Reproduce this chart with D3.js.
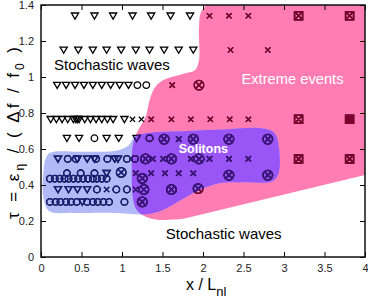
<!DOCTYPE html>
<html>
<head>
<meta charset="utf-8">
<script src="https://cdn.jsdelivr.net/npm/d3@7"></script>
<style>
  body { margin: 0; background: #fff; }
  text { font-family: "Liberation Sans", Arial, sans-serif; }
</style>
</head>
<body>
<div id="chart"></div>
<script>
// tick values and labels
const xTicks = [0, 0.5, 1, 1.5, 2, 2.5, 3, 3.5, 4];
const xTickLabels = ['0', '0.5', '1', '1.5', '2', '2.5', '3', '3.5', '4'];
const yTicks = [0, 0.2, 0.4, 0.6, 0.8, 1, 1.2, 1.4];
const yTickLabels = ['0', '0.2', '0.4', '0.6', '0.8', '1', '1.2', '1.4'];

// simulation points [x/Lnl, tau], one list per symbol
const triangles = [
  [0.42, 1.34], [0.66, 1.34], [0.89, 1.34], [1.13, 1.34], [1.36, 1.34], [1.60, 1.34], [1.84, 1.34],
  [0.28, 1.15], [0.46, 1.15], [0.64, 1.15], [0.81, 1.15], [0.99, 1.15], [1.17, 1.15], [1.34, 1.15], [1.52, 1.15], [1.70, 1.15], [1.88, 1.15],
  [0.20, 0.955], [0.31, 0.955], [0.42, 0.955], [0.53, 0.955], [0.64, 0.955], [0.75, 0.955], [0.86, 0.955], [0.97, 0.955], [1.08, 0.955],
  [0.12, 0.765], [0.19, 0.765], [0.26, 0.765], [0.33, 0.765], [0.40, 0.765], [0.43, 0.765], [0.45, 0.765], [0.47, 0.765], [0.54, 0.765],
  [0.61, 0.765], [0.68, 0.765], [0.75, 0.765], [0.82, 0.765], [0.89, 0.765], [1.03, 0.765],
  [0.32, 0.66], [0.47, 0.66], [0.81, 0.66], [0.96, 0.66], [1.18, 0.66],
  [0.21, 0.545], [0.45, 0.545], [0.57, 0.545], [0.66, 0.545], [0.91, 0.545], [0.95, 0.545],
  [0.81, 0.465],
  [0.21, 0.375], [0.34, 0.375], [0.45, 0.375], [0.57, 0.375],
  [0.51, 0.306]
];
const circles = [
  [1.19, 0.955], [1.30, 0.955],
  [0.66, 0.66], [1.34, 0.66],
  [0.33, 0.545], [0.43, 0.545], [0.68, 0.545], [0.82, 0.545], [1.06, 0.545], [1.16, 0.545],
  [0.32, 0.465], [0.49, 0.465], [0.66, 0.465],
  [0.11, 0.435], [0.17, 0.435], [0.23, 0.435], [0.29, 0.435], [0.34, 0.435], [0.40, 0.435], [0.46, 0.435],
  [0.52, 0.435], [0.58, 0.435], [0.64, 0.435], [0.69, 0.435], [0.75, 0.435], [0.81, 0.435],
  [0.69, 0.375], [0.93, 0.375], [1.06, 0.375],
  [0.11, 0.306], [0.18, 0.306], [0.24, 0.306], [0.31, 0.306], [0.37, 0.306], [0.44, 0.306],
  [0.57, 0.306], [0.64, 0.306], [0.70, 0.306], [0.77, 0.306], [0.84, 0.306], [1.03, 0.306]
];
const crosses = [
  [2.08, 1.34], [2.32, 1.34], [2.56, 1.34],
  [2.34, 1.15], [2.80, 1.15],
  [1.62, 0.955],
  [1.13, 0.765], [1.24, 0.765], [1.36, 0.765], [1.61, 0.765], [1.85, 0.765], [2.09, 0.765], [2.33, 0.765], [2.56, 0.765],
  [1.70, 0.655],
  [1.38, 0.545], [1.51, 0.545], [1.85, 0.545], [2.08, 0.545], [2.32, 0.545], [2.56, 0.545],
  [1.17, 0.465], [1.36, 0.465], [1.53, 0.465], [1.70, 0.465], [1.88, 0.465],
  [0.81, 0.375], [1.17, 0.375]
];
const circledCrosses = [
  [1.95, 0.955],
  [1.52, 0.655], [1.88, 0.655], [2.32, 0.655], [2.80, 0.655],
  [1.29, 0.545], [1.61, 0.545], [1.95, 0.545],
  [0.99, 0.47], [1.25, 0.437], [2.32, 0.455], [2.80, 0.455],
  [1.27, 0.375], [1.61, 0.375], [1.94, 0.38],
  [1.25, 0.306]
];
const boxes = [
  [3.18, 1.34], [3.81, 1.34],
  [3.18, 0.765],
  [3.18, 0.545], [3.81, 0.545]
];
const filledBoxes = [[3.81, 0.765]];

// outlines of the shaded regimes
const extremeCurve = [
  [2.04, 1.42], [2.03, 1.398], [1.97, 1.354], [1.95, 1.26], [1.95, 1.093], [1.90, 1.037], [1.76, 1.018],
  [1.50, 0.98], [1.40, 0.937], [1.34, 0.87], [1.29, 0.776], [1.18, 0.687], [1.13, 0.61],
  [1.12, 0.48], [1.13, 0.343], [1.17, 0.27], [1.28, 0.226], [1.44, 0.207], [1.76, 0.213]
];
const extremeCorners = [[4.1, 0.467], [4.1, 1.5], [2.04, 1.5]];
const solitonOutline = [
  [0.12, 0.58], [0.5, 0.585], [0.92, 0.59], [1.08, 0.62], [1.16, 0.67], [1.35, 0.69], [1.8, 0.70],
  [2.3, 0.71], [2.72, 0.715], [2.88, 0.69], [2.94, 0.6], [2.93, 0.46], [2.85, 0.42], [2.5, 0.415],
  [2.2, 0.41], [2.0, 0.38], [1.76, 0.325], [1.5, 0.26], [1.3, 0.238], [0.9, 0.245], [0.4, 0.245],
  [0.1, 0.255], [0.03, 0.33], [0.03, 0.47], [0.06, 0.55]
];

const width = 368, height = 300;
const margin = {top: 5, right: 3, bottom: 43, left: 41};

const x = d3.scaleLinear().domain([0, 4]).range([margin.left, width - margin.right]);
const y = d3.scaleLinear().domain([0, 1.4]).range([height - margin.bottom, margin.top]);

const svg = d3.select('#chart').append('svg').attr('width', width).attr('height', height);
const defs = svg.append('defs');

defs.append('clipPath').attr('id', 'plotClip').append('rect')
    .attr('x', x(0)).attr('y', y(1.4)).attr('width', x(4) - x(0)).attr('height', y(0) - y(1.4));

const smooth = d3.line().x(d => x(d[0])).y(d => y(d[1])).curve(d3.curveCatmullRom.alpha(0.5));
const smoothClosed = d3.line().x(d => x(d[0])).y(d => y(d[1])).curve(d3.curveCatmullRomClosed.alpha(0.5));

const extremeD = smooth(extremeCurve) + extremeCorners.map(p => 'L' + x(p[0]) + ',' + y(p[1])).join('') + 'Z';
const solitonD = smoothClosed(solitonOutline);

defs.append('clipPath').attr('id', 'pinkClip').append('path').attr('d', extremeD);
defs.append('clipPath').attr('id', 'blueClip').append('path').attr('d', solitonD);

const plot = svg.append('g').attr('clip-path', 'url(#plotClip)');

plot.append('path').attr('d', extremeD).attr('fill', '#ff7db3');
plot.append('path').attr('d', solitonD).attr('fill', '#b1b9f6');
plot.append('g').attr('clip-path', 'url(#pinkClip)')
    .append('path').attr('d', solitonD).attr('fill', '#9a55f6');

// marker shapes
const shapes = {
  tri: 'M-3.6,-2.8L3.6,-2.8L0,3.3Z',
  circ: 'M3.3,0A3.3,3.3 0 1 1 -3.3,0A3.3,3.3 0 1 1 3.3,0Z',
  cross: 'M-2.6,-2.6L2.6,2.6M-2.6,2.6L2.6,-2.6',
  ocross: 'M4.8,0A4.8,4.8 0 1 1 -4.8,0A4.8,4.8 0 1 1 4.8,0ZM-3.1,-3.1L3.1,3.1M-3.1,3.1L3.1,-3.1',
  box: 'M-4,-4H4V4H-4ZM-4,-4L4,4M-4,4L4,-4'
};

function drawMarkers(g, color) {
  const sets = [
    [triangles, shapes.tri, 'none', 1.3],
    [circles, shapes.circ, 'none', 1.3],
    [crosses, shapes.cross, 'none', 1.3],
    [circledCrosses, shapes.ocross, 'none', 1.3],
    [boxes, shapes.box, 'none', 1.5],
    [filledBoxes, shapes.box, color, 1.5]
  ];
  sets.forEach(s => {
    g.append('g').selectAll('path').data(s[0]).enter().append('path')
      .attr('transform', d => `translate(${x(d[0])},${y(d[1])})`)
      .attr('d', s[1])
      .attr('fill', s[2])
      .attr('stroke', color)
      .attr('stroke-width', s[3]);
  });
}

drawMarkers(plot.append('g'), '#000');
drawMarkers(plot.append('g').attr('clip-path', 'url(#pinkClip)'), '#7d0030');
drawMarkers(plot.append('g').attr('clip-path', 'url(#blueClip)'), '#1b1f7e');
drawMarkers(plot.append('g').attr('clip-path', 'url(#pinkClip)')
    .append('g').attr('clip-path', 'url(#blueClip)'), '#3b167f');

// regime labels
svg.append('text').attr('x', x(0.16)).attr('y', y(1.037))
    .attr('font-size', 15).attr('fill', '#000').text('Stochastic waves');
svg.append('text').attr('x', x(1.54)).attr('y', y(0.098))
    .attr('font-size', 15).attr('fill', '#000').text('Stochastic waves');
svg.append('text').attr('x', x(2.475)).attr('y', y(0.959))
    .attr('font-size', 14.7).attr('fill', '#fff').text('Extreme events');
svg.append('text').attr('x', x(1.70)).attr('y', y(0.578))
    .attr('font-size', 12.5).attr('font-weight', 'bold').attr('fill', '#fff').text('Solitons');

// axes, ticks inward on all four sides
function styleAxis(g) {
  g.select('.domain').remove();
  g.selectAll('line').attr('stroke', '#000');
  g.selectAll('text').attr('font-size', 11).attr('fill', '#222')
    .attr('font-family', '"Liberation Sans", Arial, sans-serif');
}

svg.append('g').attr('transform', `translate(0,${y(0)})`)
    .call(d3.axisBottom(x).tickValues(xTicks).tickFormat((d, i) => xTickLabels[i])
      .tickSizeInner(-5).tickSizeOuter(0).tickPadding(7))
    .call(styleAxis);
svg.append('g').attr('transform', `translate(0,${y(1.4)})`)
    .call(d3.axisTop(x).tickValues(xTicks).tickFormat('').tickSizeInner(-5).tickSizeOuter(0))
    .call(styleAxis);
svg.append('g').attr('transform', `translate(${x(0)},0)`)
    .call(d3.axisLeft(y).tickValues(yTicks).tickFormat((d, i) => yTickLabels[i])
      .tickSizeInner(-5).tickSizeOuter(0).tickPadding(7))
    .call(styleAxis);
svg.append('g').attr('transform', `translate(${x(4)},0)`)
    .call(d3.axisRight(y).tickValues(yTicks).tickFormat('').tickSizeInner(-5).tickSizeOuter(0))
    .call(styleAxis);

svg.append('rect').attr('x', x(0)).attr('y', y(1.4))
    .attr('width', x(4) - x(0)).attr('height', y(0) - y(1.4))
    .attr('fill', 'none').attr('stroke', '#111').attr('stroke-width', 1.5);

// axis titles
const xl = svg.append('text').attr('x', 186).attr('y', 290).attr('font-size', 16);
xl.append('tspan').text('x /  L');
xl.append('tspan').attr('dy', 6).attr('font-size', 13).text('nl');

const yl = svg.append('text').attr('transform', 'translate(19,133) rotate(-90)')
    .attr('text-anchor', 'middle').attr('font-size', 17)
    .attr('textLength', 172).attr('lengthAdjust', 'spacing');
yl.append('tspan').text('τ = ε');
yl.append('tspan').attr('dy', 5).attr('font-size', 12).text('η');
yl.append('tspan').attr('dy', -5).text(' / ( Δf / f');
yl.append('tspan').attr('dy', 5).attr('font-size', 12).text('0');
yl.append('tspan').attr('dy', -5).text(' )');
</script>
</body>
</html>
